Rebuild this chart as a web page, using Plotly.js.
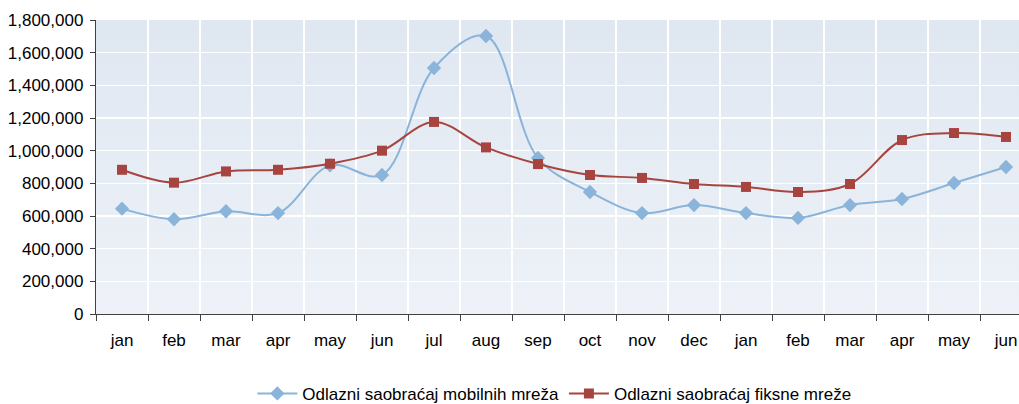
<!DOCTYPE html>
<html>
<head>
<meta charset="utf-8">
<script src="https://cdn.plot.ly/plotly-3.0.1.min.js"></script>
<style>
html,body{margin:0;padding:0;background:#fff;overflow:hidden;width:1019px;height:404px;}
#wrap{position:relative;width:1040px;height:404px;}
#bg{position:absolute;left:96px;top:20px;width:936px;height:294px;background:linear-gradient(to bottom,#dfe7f1,#eef2f8);}
#chart{position:absolute;left:0;top:0;width:1040px;height:404px;}
</style>
</head>
<body>
<div id="wrap"><div id="bg"></div><div id="chart"></div></div>
<script>
const months = ["jan","feb","mar","apr","may","jun","jul","aug","sep","oct","nov","dec","jan","feb","mar","apr","may","jun"];
const mobile = [645000,580000,629000,618000,910000,851000,1506000,1702000,955000,747000,618000,667000,618000,588000,667000,704000,802000,900000];
const fixed  = [883000,804000,873000,883000,920000,1000000,1176000,1020000,918000,851000,833000,796000,778000,747000,796000,1065000,1108000,1084000];
const seriesNames = ["Odlazni saobraćaj mobilnih mreža","Odlazni saobraćaj fiksne mreže"];

// unique category keys (duplicate month names get zero-width spaces)
const seen = {};
const cats = months.map(m => { seen[m] = (seen[m]||0)+1; return m + "\u200b".repeat(seen[m]-1); });

const font = {family:"Liberation Sans, Arial, sans-serif", size:17, color:"#000"};
const traces = [
  {x:cats, y:mobile, name:seriesNames[0], type:"scatter", mode:"lines+markers",
   line:{color:"#8ab4d9", width:2, shape:"spline", smoothing:1},
   marker:{symbol:"diamond", size:11, color:"#8ab4d9"}},
  {x:cats, y:fixed, name:seriesNames[1], type:"scatter", mode:"lines+markers",
   line:{color:"#a8443f", width:2, shape:"spline", smoothing:1},
   marker:{symbol:"square", size:10, color:"#a8443f"}}
];
const layout = {
  width:1040, height:404,
  margin:{l:96, r:8, t:20, b:90, autoexpand:false},
  paper_bgcolor:"rgba(0,0,0,0)", plot_bgcolor:"rgba(0,0,0,0)",
  font:font, showlegend:true,
  xaxis:{type:"category", tickson:"boundaries", showgrid:true, gridcolor:"#ffffff", gridwidth:1.2,
         showline:true, linecolor:"#404040", linewidth:1.2, ticks:"outside", ticklen:6, tickcolor:"#404040",
         tickfont:font, range:[-0.5,17.5], fixedrange:true, ticklabelstandoff:10, automargin:false},
  yaxis:{range:[0,1800000], dtick:200000, tickformat:",d", showgrid:true, gridcolor:"#ffffff", gridwidth:1.2,
         showline:true, linecolor:"#404040", linewidth:1.2, ticks:"outside", ticklen:5, tickcolor:"#404040",
         tickfont:font, zeroline:false, fixedrange:true, ticklabelstandoff:3, automargin:false},
  legend:{orientation:"h", x:0.533, xref:"container", xanchor:"center", y:0.025, yref:"container", yanchor:"middle", font:font, itemwidth:40}
};
Plotly.newPlot("chart", traces, layout, {displayModeBar:false, staticPlot:true});
</script>
</body>
</html>
